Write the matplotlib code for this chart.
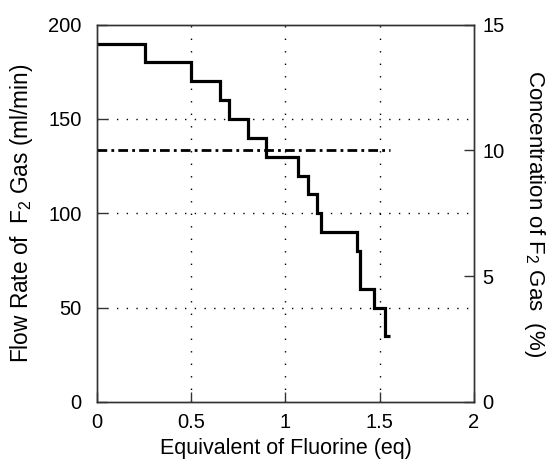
import matplotlib
matplotlib.use("Agg")
import matplotlib.pyplot as plt
import numpy as np

plt.rcParams['font.family'] = ['Liberation Sans', 'DejaVu Sans']
plt.rcParams['mathtext.fontset'] = 'custom'
plt.rcParams['mathtext.rm'] = 'Liberation Sans'
plt.rcParams['mathtext.it'] = 'Liberation Sans'

# step profile of F2 flow rate vs equivalents
edges = [0, 0.255, 0.50, 0.65, 0.70, 0.80, 0.895, 1.065, 1.12, 1.165, 1.19,
         1.377, 1.395, 1.47, 1.53, 1.555]
flow = [190, 180, 170, 160, 150, 140, 130, 120, 110, 100, 90, 80, 60, 50, 35]

# F2 concentration (right axis)
conc_x = [0, 1.555]
conc = [10, 10]

fig = plt.figure(figsize=(5.55, 4.65), dpi=100)
ax = fig.add_axes([0.1748, 0.1355, 0.6792, 0.8115])

ax.stairs(flow, edges, color='k', linewidth=2.3, baseline=None)

ax.set_xlim(0, 2)
ax.set_ylim(0, 200)
ax.set_xticks([0, 0.5, 1, 1.5, 2])
ax.set_xticklabels(['0', '0.5', '1', '1.5', '2'])
ax.set_yticks([0, 50, 100, 150, 200])

for v in [0.5, 1, 1.5]:
    ax.axvline(v, color='k', linewidth=1, linestyle=(0, (1, 8)), zorder=0)
for v in [50, 100, 150]:
    ax.axhline(v, color='k', linewidth=1, linestyle=(0, (1, 6)), zorder=0)

ax2 = ax.twinx()
ax2.set_position(ax.get_position())
ax2.plot(conc_x, conc, color='k', linewidth=2, linestyle=(0, (3.5, 1.5, 1, 1.5)))
ax2.set_ylim(0, 15)
ax2.set_yticks([0, 5, 10, 15])

for a in (ax, ax2):
    for s in a.spines.values():
        s.set_color('#333333')
        s.set_linewidth(1)
    a.tick_params(direction='in', length=7, width=1, color='#333333',
                  labelsize=14.5)
ax.tick_params(top=False, right=False)
ax.tick_params(axis='y', pad=11)
ax.tick_params(axis='x', pad=8)
ax2.tick_params(left=False, labelleft=False, pad=6)

ax.set_xlabel('Equivalent of Fluorine (eq)', fontsize=15.5)
ax.xaxis.set_label_coords(0.5, -0.095)
ax.set_ylabel(r'Flow Rate of  F$_2$ Gas (ml/min)', fontsize=16.3)
ax.yaxis.set_label_coords(-0.164, 0.5)
ax2.set_ylabel(r'Concentration of F$_2$ Gas  (%)', fontsize=16,
               rotation=270, va='bottom')
ax2.yaxis.set_label_coords(1.127, 0.5)

fig.savefig('out.png', dpi=100)
